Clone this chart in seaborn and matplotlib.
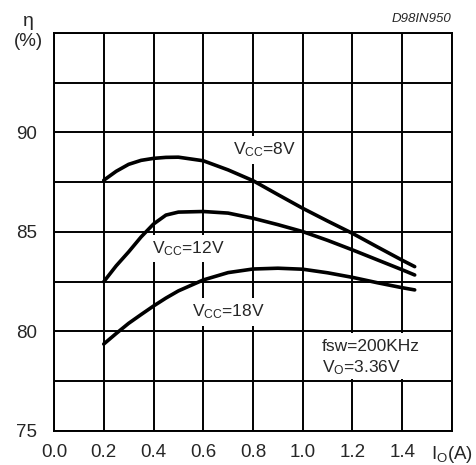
import pandas as pd
import matplotlib
matplotlib.use('Agg')
import matplotlib.pyplot as plt
import seaborn as sns
from matplotlib.patches import Rectangle

# === data ===
io_amps = [0.2, 0.25, 0.3, 0.35, 0.4, 0.45, 0.5, 0.6, 0.7, 0.8, 0.9, 1.0, 1.1, 1.2, 1.3, 1.4, 1.45]
eff_8v = [87.6, 88.05, 88.4, 88.6, 88.7, 88.75, 88.76, 88.58, 88.12, 87.58, 86.88, 86.19, 85.55, 84.93, 84.25, 83.58, 83.26]
eff_12v = [82.5, 83.3, 84.0, 84.75, 85.4, 85.85, 86.0, 86.03, 85.95, 85.69, 85.37, 85.02, 84.58, 84.1, 83.6, 83.1, 82.84]
eff_18v = [79.37, 79.9, 80.41, 80.85, 81.28, 81.68, 82.04, 82.59, 82.96, 83.14, 83.18, 83.13, 82.95, 82.72, 82.45, 82.2, 82.09]
series = ["8V", "12V", "18V"]

x_ticks = [0.0, 0.2, 0.4, 0.6, 0.8, 1.0, 1.2, 1.4, 1.6]
x_labels = ["0.0", "0.2", "0.4", "0.6", "0.8", "1.0", "1.2", "1.4", r"I$_\mathrm{O}$(A)"]
y_ticks = [75, 77.5, 80, 82.5, 85, 87.5, 90, 92.5, 95]
y_labels = ["75", "", "80", "", "85", "", "90", "", ""]

df = pd.DataFrame({
    "Io": io_amps * 3,
    "eff": eff_8v + eff_12v + eff_18v,
    "Vcc": [s for s in series for _ in io_amps],
})

sns.set_style("white")
plt.rcParams['font.family'] = ['Liberation Sans', 'DejaVu Sans']
plt.rcParams['mathtext.fontset'] = 'custom'
plt.rcParams['mathtext.rm'] = 'Liberation Sans'
plt.rcParams['mathtext.it'] = 'Liberation Sans:italic'

fig = plt.figure(figsize=(4.77, 4.65), dpi=100)
ax = fig.add_axes([54 / 477, 1 - 431 / 465, 398 / 477, 398 / 465])

sns.lineplot(data=df, x="Io", y="eff", hue="Vcc", palette=["black"] * 3,
             legend=False, linewidth=2.6, ax=ax, zorder=4)
for ln in ax.lines:
    ln.set_solid_joinstyle("round")

ax.set_xlim(0, 1.6)
ax.set_ylim(75, 95)
ax.set_xticks(x_ticks)
ax.set_xticklabels(x_labels)
ax.set_yticks(y_ticks)
ax.set_yticklabels(y_labels)
ax.tick_params(length=0, labelsize=13.5)
ax.tick_params(axis='x', pad=9)
ax.tick_params(axis='y', pad=12)
ax.set_xlabel("")
ax.set_ylabel("")
ax.set_axisbelow(True)
ax.grid(True, color="black", linewidth=1.4)
for sp in ax.spines.values():
    sp.set_color("black")
    sp.set_linewidth(1.4)

box = dict(facecolor="white", edgecolor="none", pad=3)
ax.text(0.72, 89.12, r"V$_\mathrm{CC}$=8V", fontsize=12.5, va="center", ha="left", bbox=box, zorder=3)
ax.text(0.393, 84.15, r"V$_\mathrm{CC}$=12V", fontsize=12.5, va="center", ha="left", bbox=box, zorder=3)
ax.text(0.555, 80.98, r"V$_\mathrm{CC}$=18V", fontsize=12.5, va="center", ha="left", bbox=box, zorder=3)

# white patch hiding the grid behind the conditions note
ax.add_patch(Rectangle((1.01, 77.6), 0.58, 2.3, facecolor="white", edgecolor="none", zorder=2))
ax.text(1.077, 79.27, "fsw=200KHz", fontsize=12.5, va="center", ha="left", zorder=3)
ax.text(1.077, 78.17, r"V$_\mathrm{O}$=3.36V", fontsize=12.5, va="center", ha="left", zorder=3)

fig.text(28 / 477, 1 - 21 / 465, "η", fontsize=14, ha="center", va="center")
fig.text(28 / 477, 1 - 41 / 465, "(%)", fontsize=13.5, ha="center", va="center")
fig.text(451 / 477, 1 - 19 / 465, "D98IN950", fontsize=9.5, style="italic", ha="right", va="center")

fig.savefig("out.png", dpi=100)
plt.close(fig)
